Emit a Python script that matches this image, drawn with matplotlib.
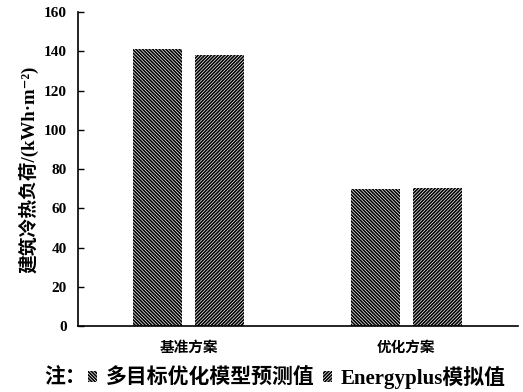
import matplotlib
matplotlib.use("Agg")
import matplotlib.pyplot as plt
import numpy as np

# ---- data ----
categories = ["基准方案", "优化方案"]
model_pred = [141.0, 69.8]        # 多目标优化模型预测值
energyplus = [138.3, 70.6]        # Energyplus模拟值
series_labels = ["多目标优化模型预测值", "Energyplus模拟值"]
yticks = [0, 20, 40, 60, 80, 100, 120, 140, 160]

fonts = ['Liberation Serif', 'Noto Sans CJK SC', 'DejaVu Serif']
plt.rcParams['font.family'] = fonts
plt.rcParams['hatch.linewidth'] = 1.2

fig = plt.figure(figsize=(5.23, 3.92), dpi=100)
ax = fig.add_axes([0.149, 0.168, 0.841, 0.801])

x = np.arange(len(categories))
w = 0.225
off = 0.142
ax.bar(x - off, model_pred, w, color='white', edgecolor='black', linewidth=0,
       hatch='\\' * 10, label=series_labels[0])
ax.bar(x + off, energyplus, w, color='white', edgecolor='black', linewidth=0,
       hatch='/' * 10, label=series_labels[1])

ax.set_xlim(-0.507, 1.511)
ax.set_ylim(0, 160)
ax.set_yticks(yticks)
ax.set_yticklabels([str(t) for t in yticks], fontsize=11, fontweight='bold')
ax.set_xticks(x)
ax.set_xticklabels(categories, family=['Noto Sans CJK SC'], fontsize=10.5,
                   fontweight='bold')
ax.tick_params(axis='x', length=0, pad=9)
ax.tick_params(axis='y', direction='in', length=4, width=1, pad=8)
for s in ['top', 'right']:
    ax.spines[s].set_visible(False)
for s in ['left', 'bottom']:
    ax.spines[s].set_linewidth(1.2)

ax.set_ylabel('建筑冷热负荷/(kWh·m⁻²)', fontsize=13.5, fontweight='bold',
              labelpad=4)

# legend at the bottom with "注：" prefix
fig.text(0.085, 0.038, "注：", family=['Noto Sans CJK SC'], fontsize=15,
         fontweight='bold', va='center', ha='left')
fig.legend(loc='center left', bbox_to_anchor=(0.168, 0.038), ncol=2,
           frameon=False, prop={'family': fonts, 'size': 15, 'weight': 'bold'},
           handlelength=0.45, handleheight=0.45, handletextpad=0.4,
           columnspacing=0.4, borderpad=0, borderaxespad=0)

fig.savefig("out.png", dpi=100)
